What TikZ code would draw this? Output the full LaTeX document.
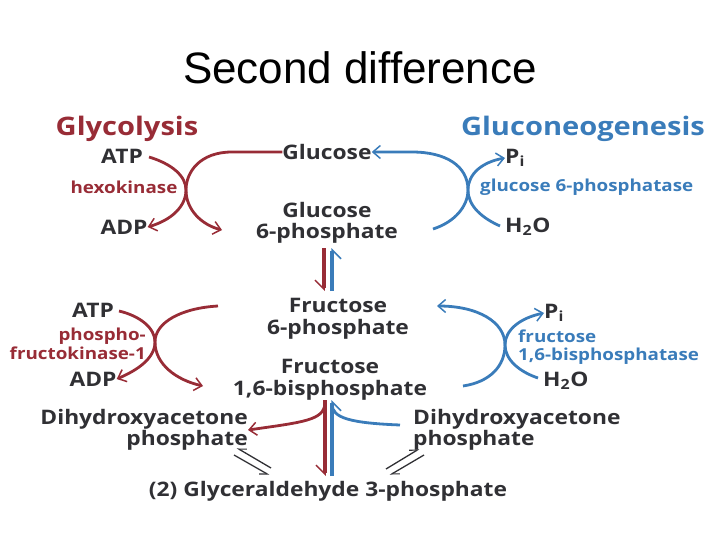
\documentclass[tikz,border=0pt]{standalone}
\usepackage{fontspec}
\setmainfont{Open Sans}[FakeStretch=1.14]
\newfontfamily\titlefont{Liberation Sans}
\usetikzlibrary{positioning, arrows.meta}
\definecolor{glyred}{RGB}{152,44,54}
\definecolor{gngblue}{RGB}{58,124,186}
\definecolor{ink}{RGB}{48,48,52}

\begin{document}
\begin{tikzpicture}[x=1pt, y=-1pt,
    met/.style={font=\fontsize{20}{21.5}\selectfont\bfseries, text=ink, inner sep=0pt, align=center},
    side/.style={font=\fontsize{20}{21.5}\selectfont\bfseries, text=ink, inner sep=0pt},
    enzr/.style={font=\fontsize{16.5}{19}\selectfont\bfseries, text=glyred, inner sep=0pt},
    enzb/.style={font=\fontsize{16.5}{18}\selectfont\bfseries, text=gngblue, inner sep=0pt},
    redline/.style={draw=glyred, line width=2.8pt},
    blueline/.style={draw=gngblue, line width=2.8pt},
    tip/.style={-{Straight Barb[line width=1.5pt, length=7.5pt, width=13pt]}},
    harp/.style={line width=3.4pt, -{Straight Barb[right, line width=1.5pt, length=9pt, width=18pt]}},
    eq/.style={draw=ink, line width=1.3pt}]
  \useasboundingbox (0,0) rectangle (720,540);

  \node[font=\titlefont\fontsize{44}{48}\selectfont] (title) at (360,68) {Second difference};

  % pathway labels
  \node[font=\fontsize{25.5}{28}\selectfont\bfseries, text=glyred, inner sep=0pt] (gly) at (127,129) {Glycolysis};
  \node[font=\fontsize{25.5}{28}\selectfont\bfseries, text=gngblue, inner sep=0pt] (gng) at (583,129) {Gluconeogenesis};

  % metabolites down the middle
  \node[met] (glc) at (327,152) {Glucose};
  \node[met] (g6p) at (327,223) {Glucose\\6-phosphate};
  \node[met] (f6p) at (338,319) {Fructose\\6-phosphate};
  \node[met] (fbp) at (330,380) {Fructose\\1,6-bisphosphate};
  \node[met, align=right, anchor=east] (dhapL) at (248,430) {Dihydroxyacetone\\phosphate};
  \node[met, align=left, anchor=west] (dhapR) at (413,430) {Dihydroxyacetone\\phosphate};
  \node[met] (gap) at (328,491) {(2) Glyceraldehyde 3-phosphate};

  % first step
  \node[side] (atpA) at (122,156) {ATP};
  \node[enzr] (hk) at (124,187) {hexokinase};
  \node[side] (adpA) at (124,227) {ADP};
  \node[side, anchor=west] (piA) at (505,158) {P\textsubscript{i}};
  \node[enzb, anchor=west] (g6pase) at (480,187) {glucose 6-phosphatase};
  \node[side, anchor=west] (h2oA) at (505,227) {H\textsubscript{2}O};

  % third step
  \node[side] (atpB) at (93,310) {ATP};
  \node[enzr, align=right, anchor=east] (pfk) at (146,344) {phospho-\\fructokinase-1};
  \node[side] (adpB) at (93,379) {ADP};
  \node[side, anchor=west] (piB) at (544,313) {P\textsubscript{i}};
  \node[enzb, align=left, anchor=west] (fbpase) at (518,347) {fructose\\1,6-bisphosphatase};
  \node[side, anchor=west] (h2oB) at (543,381) {H\textsubscript{2}O};

  \coordinate (hkx) at (186,190);
  \coordinate (g6px) at (468,190);
  \coordinate (pfkx) at (155,342);
  \coordinate (fbpx) at (505,345);
  \coordinate (isoR) at (324,248);
  \coordinate (isoB) at (332,291);
  \coordinate (aldR) at (325,400);
  \coordinate (aldB) at (332,476);

  % hexokinase / glucose 6-phosphatase
  \draw[redline, tip] (glc.west) -- (232,152) .. controls (200,152) and (186,172) .. (hkx)
    .. controls (186,210) and (202,225) .. (222,230);
  \draw[redline, tip] (atpA.east) ++(6,1) .. controls (172,164) and (186,176) .. (hkx)
    .. controls (186,206) and (172,220) .. (adpA.east);
  \draw[blueline, tip] (433,229) .. controls (455,222) and (468,206) .. (g6px)
    .. controls (468,166) and (446,152) .. (412,152) -- (glc.east);
  \draw[blueline, tip] (h2oA.west) ++(-5,-1) .. controls (482,218) and (468,206) .. (g6px)
    .. controls (468,174) and (482,162) .. (piA.west);

  % isomerase
  \draw[redline, harp] (isoR) -- (isoR |- isoB);
  \draw[blueline, harp] (isoB) -- (isoB |- isoR);

  % PFK-1 / FBPase-1
  \draw[redline, tip] (218,306) .. controls (182,308) and (155,322) .. (pfkx)
    .. controls (155,364) and (176,380) .. (203,386);
  \draw[redline, tip] (atpB.east) ++(5,1) .. controls (140,316) and (155,328) .. (pfkx)
    .. controls (155,358) and (138,370) .. (adpB.east);
  \draw[blueline, tip] (463,386) .. controls (490,382) and (505,366) .. (fbpx)
    .. controls (505,322) and (478,306) .. (437,306);
  \draw[blueline, tip] (h2oB.west) ++(-5,-3) .. controls (520,372) and (505,360) .. (fbpx)
    .. controls (505,330) and (520,318) .. (piB.west);

  % aldolase
  \draw[redline, harp] (aldR) -- (aldR |- aldB);
  \draw[redline, tip] (325,404) .. controls (323,420) and (305,422) .. (dhapL.east);
  \draw[blueline, harp] (aldB) -- (aldB |- aldR);
  \draw[blueline] (dhapR.west) ++(-13,-5) .. controls (350,423) and (332,418) .. (332,404);

  % triose phosphate isomerase
  \draw[eq, -{Straight Barb[right, line width=1.1pt, length=7pt, width=8pt]}] (271,468) -- (237,448);
  \draw[eq, -{Straight Barb[right, line width=1.1pt, length=7pt, width=8pt]}] (234,455) -- (269,475);
  \draw[eq, -{Straight Barb[left, line width=1.1pt, length=7pt, width=8pt]}] (386,469) -- (419,449);
  \draw[eq, -{Straight Barb[left, line width=1.1pt, length=7pt, width=8pt]}] (424,455) -- (390,475);
\end{tikzpicture}
\end{document}
